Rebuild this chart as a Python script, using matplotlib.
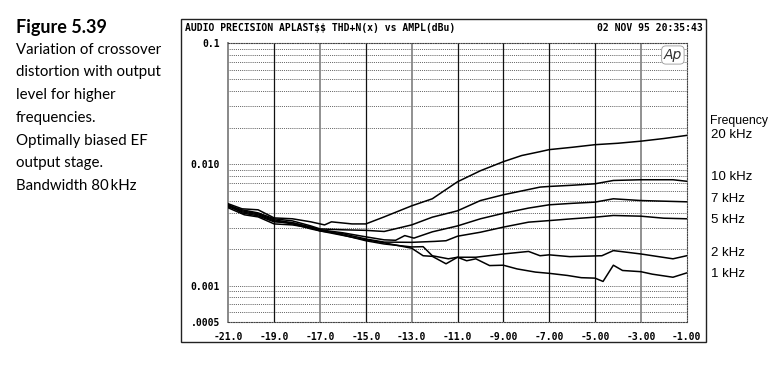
import matplotlib
matplotlib.use("Agg")
import matplotlib.pyplot as plt
from matplotlib.patches import Rectangle

# ---------------- data (THD+N in %, level in dBu) ----------------
x_20k = [-21, -20.4, -19.7, -19.0, -18.2, -17.4, -16.8, -16.5, -15.6, -15.0, -14.2, -13.0, -12.1,
         -11.0, -10.0, -9.0, -8.2, -7.4, -7.0, -6.0, -5.0, -4.0, -3.0, -2.0, -1.0]
y_20k = [0.00472, 0.00429, 0.00421, 0.00361, 0.00355, 0.00335, 0.00316, 0.00335, 0.00322, 0.00322,
         0.00368, 0.00454, 0.00519, 0.00717, 0.00884, 0.0105, 0.0118, 0.0127, 0.0132, 0.0138,
         0.0145, 0.0149, 0.0155, 0.0163, 0.0173]

x_10k = [-21, -20.4, -19.7, -19.0, -18.2, -17.4, -17.0, -16.0, -15.0, -14.2, -13.0, -12.1, -11.0,
         -10.0, -9.0, -7.4, -7.0, -6.0, -5.0, -4.2, -3.0, -1.6, -1.0]
y_10k = [0.00454, 0.00421, 0.00397, 0.00355, 0.00341, 0.00310, 0.00293, 0.00288, 0.00285, 0.00279,
         0.00316, 0.00366, 0.00413, 0.00502, 0.0056, 0.00648, 0.00656, 0.00671, 0.00690, 0.00735,
         0.00745, 0.00745, 0.00724]

x_7k = [-21, -20.4, -19.7, -19.0, -18.2, -17.4, -17.0, -16.0, -15.0, -14.2, -13.7, -13.3, -12.9,
        -12.1, -11.0, -10.0, -9.0, -7.9, -7.0, -6.0, -5.0, -4.2, -3.0, -1.0]
y_7k = [0.00463, 0.00413, 0.00390, 0.00348, 0.00329, 0.00304, 0.00288, 0.00272, 0.00252, 0.00238,
        0.00236, 0.00258, 0.00246, 0.00277, 0.00310, 0.00355, 0.00394, 0.00435, 0.00463, 0.00476,
        0.00487, 0.00519, 0.00502, 0.00490]

x_5k = [-21, -20.4, -19.7, -19.0, -18.2, -17.4, -17.0, -16.0, -15.0, -14.2, -13.0, -12.0, -11.5,
        -11.0, -10.0, -9.0, -7.9, -7.0, -6.0, -5.0, -4.2, -3.0, -2.0, -1.0]
y_5k = [0.00446, 0.00405, 0.00383, 0.00341, 0.00322, 0.00293, 0.00282, 0.00267, 0.00242, 0.00228,
        0.00227, 0.00231, 0.00234, 0.00255, 0.00275, 0.00303, 0.00333, 0.00343, 0.00355, 0.00366,
        0.00378, 0.00373, 0.00359, 0.00355]

x_2k = [-21, -20.3, -19.7, -19.0, -18.2, -17.4, -17.0, -16.0, -15.0, -14.2, -13.0, -12.5, -12.1,
        -11.4, -11.0, -10.2, -9.0, -7.9, -7.4, -7.0, -6.1, -4.7, -4.2, -3.0, -1.6, -1.0]
y_2k = [0.00437, 0.00383, 0.00368, 0.00322, 0.00316, 0.00299, 0.00288, 0.00261, 0.00234, 0.00220,
        0.00208, 0.00209, 0.00176, 0.00166, 0.00171, 0.00171, 0.00182, 0.00191, 0.00176, 0.00179,
        0.00173, 0.00176, 0.00194, 0.00182, 0.00166, 0.00176]

x_1k = [-21, -20.4, -19.7, -19.0, -18.2, -17.4, -17.0, -16.0, -15.0, -14.2, -13.0, -12.5, -12.1,
        -11.5, -11.0, -10.6, -10.2, -9.6, -9.0, -8.4, -7.6, -7.0, -6.2, -5.6, -5.0, -4.65, -4.2,
        -3.8, -3.0, -2.5, -1.6, -1.0]
y_1k = [0.00463, 0.00397, 0.00375, 0.00335, 0.00329, 0.00299, 0.00282, 0.00259, 0.00238, 0.00225,
        0.00203, 0.00176, 0.00174, 0.00151, 0.00171, 0.00160, 0.00166, 0.00146, 0.00147, 0.00137,
        0.00129, 0.00126, 0.00121, 0.00116, 0.00115, 0.00108, 0.00147, 0.00133, 0.00130, 0.00124,
        0.00117, 0.00127]

series = [(x_20k, y_20k), (x_10k, y_10k), (x_7k, y_7k), (x_5k, y_5k), (x_2k, y_2k), (x_1k, y_1k)]

xticks = [-21, -19, -17, -15, -13, -11, -9, -7, -5, -3, -1]
xticklabels = ["-21.0", "-19.0", "-17.0", "-15.0", "-13.0", "-11.0", "-9.00", "-7.00", "-5.00",
               "-3.00", "-1.00"]
yticks = [0.1, 0.01, 0.001, 0.0005]
yticklabels = ["0.1", "0.010", "0.001", ".0005"]

freq_labels = ["20 kHz", "10 kHz", "7 kHz", "5 kHz", "2 kHz", "1 kHz"]
freq_label_y = [135, 177, 199, 220, 253, 274]  # pixel rows of the right-hand labels

caption_title = "Figure 5.39"
caption_lines = ["Variation of crossover", "distortion with output", "level for higher",
                 "frequencies.", "Optimally biased EF", "output stage.", "Bandwidth 80\u2009kHz"]
caption_y = [50, 72, 95, 118, 141, 163, 186]

header_left = "AUDIO PRECISION APLAST$$ THD+N(x) vs AMPL(dBu)"
header_right = "02 NOV 95 20:35:43"

# ---------------- figure ----------------
W, H = 772, 388
fig = plt.figure(figsize=(W / 100, H / 100), dpi=100)
fig.patch.set_facecolor("white")

def fx(px):
    return px / W

def fy(py):
    return 1 - py / H

# outer instrument frame
fig.patches.append(Rectangle((fx(181), fy(342)), fx(706) - fx(181), fy(19) - fy(342),
                             transform=fig.transFigure, fill=False, ec="#222222", lw=1.0))

ax = fig.add_axes([fx(228.3), fy(322), fx(686.7) - fx(228.3), fy(43) - fy(322)])
ax.set_yscale("log")
ax.set_xlim(-21, -1)
ax.set_ylim(0.0005, 0.1)

# grid: dotted horizontals at every minor decade step
minor = []
for dec in [0.0001, 0.001, 0.01]:
    for m in range(1, 10):
        v = dec * m
        if 0.0005 < v < 0.1:
            minor.append(v)
for v in minor:
    ax.axhline(v, color="#333333", lw=0.6, ls=(0, (1, 1.3)), zorder=1)

# vertical solid lines every 2 dB
for xv in xticks[1:-1]:
    grey = xv in (-17, -13, -3)
    ax.axvline(xv, color="#888888" if grey else "#111111", lw=1.3 if grey else 0.9, zorder=1)

for side in ["top", "bottom", "right"]:
    ax.spines[side].set_linestyle((0, (1, 1.3)))
    ax.spines[side].set_color("#444444")
    ax.spines[side].set_linewidth(0.8)
ax.spines["left"].set_color("#888888")
ax.spines["left"].set_linewidth(1.4)

for xs, ys in series:
    ax.plot(xs, ys, color="black", lw=1.1, zorder=3)

ax.set_xticks(xticks)
ax.set_xticklabels(xticklabels)
ax.set_yticks(yticks)
ax.set_yticklabels(yticklabels)
ax.minorticks_off()
ax.tick_params(axis="both", length=0)
ax.tick_params(axis="x", pad=7)
ax.tick_params(axis="y", pad=6)
for lab in ax.get_xticklabels() + ax.get_yticklabels():
    lab.set_fontfamily("DejaVu Sans Mono")
    lab.set_fontweight("bold")
    lab.set_fontsize(7)

# header
fig.text(fx(185), fy(28), header_left, family="DejaVu Sans Mono", weight="bold", fontsize=7,
         va="center", ha="left", parse_math=False)
fig.text(fx(703), fy(28), header_right, family="DejaVu Sans Mono", weight="bold", fontsize=7,
         va="center", ha="right")

# Ap logo
fig.text(fx(682), fy(55), "Ap", family="DejaVu Sans", style="italic", fontsize=10, color="#333333",
         va="center", ha="right",
         bbox=dict(boxstyle="round,pad=0.15,rounding_size=0.3", fc="white", ec="#999999", lw=0.6))

# left caption
fig.text(fx(16), fy(27), caption_title, family="Lato", weight="bold", fontsize=13, va="center",
         ha="left")
for t, yy in zip(caption_lines, caption_y):
    fig.text(fx(16), fy(yy), t, family="Lato", fontsize=10.8, va="center", ha="left")

# right labels
fig.text(fx(710), fy(121), "Frequency", family="Liberation Sans", fontsize=8.8, va="center",
         ha="left")
for t, yy in zip(freq_labels, freq_label_y):
    fig.text(fx(711), fy(yy), t, family="Liberation Sans", fontsize=9.5, va="center", ha="left")

fig.savefig("out.png", dpi=100)
